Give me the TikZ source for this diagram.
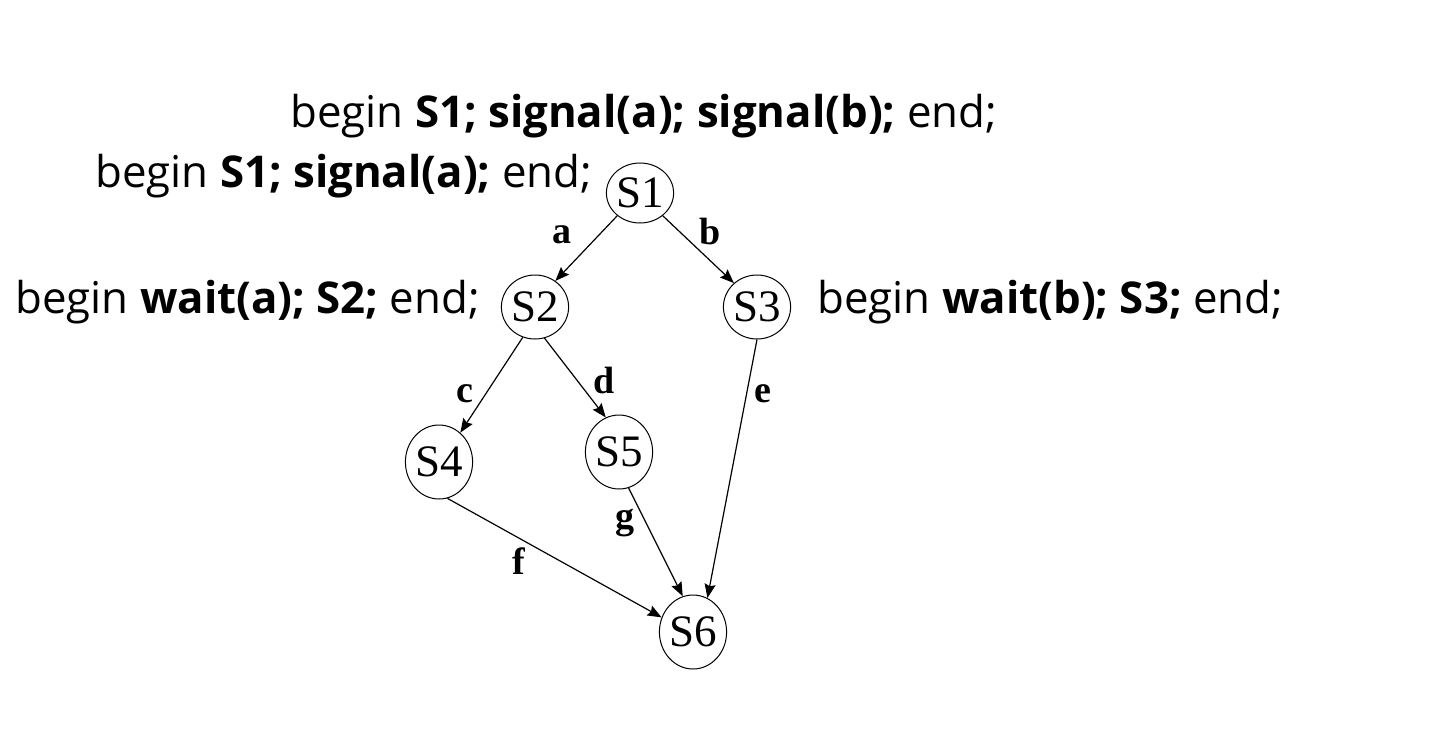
\documentclass[tikz,border=0pt]{standalone}
\usepackage{fontspec}
\setmainfont{Liberation Serif}
\newfontfamily\codefont{Open Sans}
\usetikzlibrary{shapes.geometric,arrows.meta}
\tikzset{
  state/.style={ellipse,draw,line width=0.5pt,inner sep=0pt,minimum width=33pt,minimum height=35pt,font=\fontsize{22.5}{26}\selectfont},
  code/.style={anchor=base west,inner sep=0pt,font=\codefont\fontsize{21.9}{26}\selectfont},
  elab/.style={anchor=base,inner sep=0pt,font=\fontsize{19}{22}\selectfont\bfseries},
  arr/.style={line width=0.6pt,-{Stealth[length=7pt,width=5.5pt,inset=1pt]}}
}
\begin{document}
\begin{tikzpicture}[x=0.5pt,y=-0.5pt]
\useasboundingbox (0,0) rectangle (1438,728);
\node[code] (t1) at (290,127) {begin \textbf{S1; signal(a); signal(b);} end;};
\node[code] (t2) at (95,187) {begin \textbf{S1; signal(a);} end;};
\node[code] (t3) at (15,313) {begin \textbf{wait(a); S2;} end;};
\node[code] (t4) at (817,313) {begin \textbf{wait(b); S3;} end;};

\node[state,minimum height=30pt] (S1) at (640,193) {S1};
\node[state,minimum height=32pt] (S2) at (535,307) {S2};
\node[state,minimum height=32pt] (S3) at (757,307) {S3};
\node[state,minimum height=37pt] (S4) at (439,462) {S4};
\node[state,minimum height=37pt] (S5) at (619,452) {S5};
\node[state,minimum height=37pt] (S6) at (693,632) {S6};

\draw[arr] (S1.225) -- (S2.52);
\draw[arr] (S1.-45) -- (S3.134);
\draw[arr] (S2.248) -- (S4.54);
\draw[arr] (S2.-73) -- (S5.111);
\draw[arr] (S3.-90) -- (S6.67);
\draw[arr] (S5.-75) -- (S6.106);
\draw[arr] (S4.-77) -- (S6.155);

\node[elab] (la) at (562,243) {a};
\node[elab] (lb) at (710,244) {b};
\node[elab] (lc) at (465,402) {c};
\node[elab] (ld) at (604,393) {d};
\node[elab] (le) at (763,402) {e};
\node[elab] (lf) at (519,574) {f};
\node[elab] (lg) at (625,528) {g};
\end{tikzpicture}
\end{document}
